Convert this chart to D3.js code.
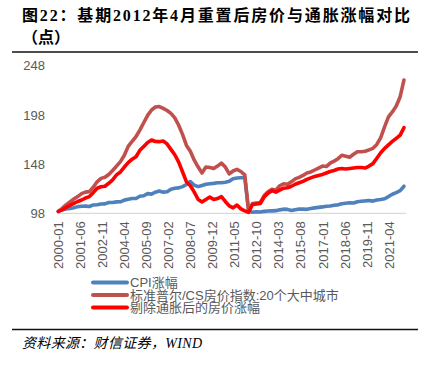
<!DOCTYPE html>
<html>
<head>
<meta charset="utf-8">
<script src="https://cdn.jsdelivr.net/npm/d3@7"></script>
<style>
  body { margin: 0; background: #fff; }
  svg { display: block; }
</style>
</head>
<body>
<div class="canvas"></div>
<script>
// quarterly samples (Jan, Apr, Jul, Oct), 2000-01 .. 2022-04
const firstMonth = '2000-01';
const lastMonth = '2022-04';

const tickLabels = ['2000-01', '2001-06', '2002-11', '2004-04', '2005-09', '2007-02', '2008-07', '2009-12',
    '2011-05', '2012-10', '2014-03', '2015-08', '2017-01', '2018-06', '2019-11', '2021-04'];

const yTicks = [98, 148, 198, 248];

const seriesNames = ['CPI涨幅', '标准普尔/CS房价指数:20个大中城市', '剔除通胀后的房价涨幅'];

const cpi = [
    100, 101.5, 102.4, 103,
    103.7, 104.8, 105.2, 105.3,
    104.9, 106.5, 106.7, 107.4,
    107.6, 108.9, 108.9, 109.6,
    109.7, 111.4, 112.2, 113.1,
    113, 115.3, 115.8, 118,
    117.5, 119.4, 120.6, 119.5,
    119.9, 122.5, 123.4, 123.8,
    125.1, 127.3, 130.3, 126.5,
    125.1, 126.3, 127.6, 128.1,
    128.4, 129.1, 129.1, 129.6,
    130.5, 133.2, 133.8, 134.1,
    134.3, 100, 99, 99.5,
    99.3, 100, 100.3, 100.5,
    100.7, 101.5, 102.2, 102,
    100.8, 101.7, 102.4, 102.2,
    102, 102.9, 103.5, 104,
    104.5, 105.2, 105.4, 106.2,
    106.6, 107.7, 108.3, 108.8,
    108.5, 109.8, 110.3, 110.6,
    111, 110.4, 111.5, 112.1,
    112.8, 115, 117.4, 119,
    121, 125.5
];

const caseShiller = [
    100, 103, 106.5, 109.5,
    112.5, 115, 118, 119.5,
    120, 124.5, 130, 133.5,
    134.6, 137.5, 141.5, 146,
    150.5, 157, 166, 171,
    176, 182.5, 190, 197.5,
    203, 206, 206.5, 204.7,
    202.5, 199.5, 195, 187.5,
    178, 167, 161, 152,
    145, 139, 145, 144.5,
    143.5, 146, 149, 145,
    138, 141, 142.7, 140.5,
    137, 100, 108, 108.5,
    109, 116, 120, 122.5,
    121.5, 126, 128, 127.5,
    130, 133, 134.5, 136.5,
    139, 140, 142, 144,
    146, 145.5, 149, 151,
    153.5, 157, 156, 155,
    158, 160.5, 160.5, 161,
    162.5, 164, 168, 175,
    186, 196, 201, 207,
    216.5, 233.5
];

const realPrice = [
    100, 101.5, 104, 106,
    108, 110, 111.5, 113.5,
    115, 119, 123.5, 125,
    125.5, 128.5, 132, 137,
    140, 145, 149.5, 153,
    155.5, 162, 166, 170,
    172.5, 171, 170.8, 171.5,
    168.5, 163, 157.5, 150,
    140, 130, 126, 119.5,
    112, 109.5, 112, 114.5,
    112, 113, 115, 110,
    105.5, 103.5, 106.4, 102.5,
    100.5, 99, 107, 107.5,
    108, 114.5, 118.5, 121,
    119.5, 121.5, 123.5, 124,
    125.5, 127.5, 129, 130.5,
    132.5, 134, 135.5, 136.5,
    137.5, 139, 140.5, 141.5,
    143, 143.5, 143, 143.5,
    144, 144.5, 144.5, 144,
    146, 148.5, 154, 159.5,
    164, 167.5, 171, 174.2,
    177.5, 185
];

const colors = ['#4f81bd', '#c0504d', '#ff0000'];

const dims = {width: 436, height: 367};
const parseMonth = d3.utcParse('%Y-%m');
const formatMonth = d3.utcFormat('%Y-%m');

const svg = d3.select('.canvas')
    .append('svg')
    .attr('width', dims.width)
    .attr('height', dims.height);

const latin = '"Liberation Sans", "Noto Sans CJK SC", sans-serif';
const serif = '"Liberation Serif", "Noto Sans CJK SC", serif';

// title
svg.append('text')
    .attr('x', 22)
    .attr('y', 21)
    .attr('font-family', serif)
    .attr('font-weight', 'bold')
    .attr('font-size', 16)
    .attr('textLength', 388)
    .attr('lengthAdjust', 'spacing')
    .text('图22：基期2012年4月重置后房价与通胀涨幅对比');

svg.append('text')
    .attr('x', 22)
    .attr('y', 43)
    .attr('font-family', serif)
    .attr('font-weight', 'bold')
    .attr('font-size', 16)
    .text('（点）');

svg.selectAll('.rule')
    .data([52, 329.5])
    .enter()
    .append('line')
    .attr('class', 'rule')
    .attr('x1', 12)
    .attr('x2', 418)
    .attr('y1', d => d)
    .attr('y2', d => d)
    .attr('stroke', '#111')
    .attr('stroke-width', 1.4);

svg.append('text')
    .attr('x', 22)
    .attr('y', 348)
    .attr('font-family', serif)
    .attr('font-style', 'italic')
    .attr('font-size', 14)
    .attr('textLength', 180)
    .attr('lengthAdjust', 'spacing')
    .text('资料来源：财信证券，WIND');

// scales
const months = d3.utcMonth.every(3).range(parseMonth(firstMonth), d3.utcMonth.offset(parseMonth(lastMonth), 1));

const x = d3.scaleUtc()
    .domain([parseMonth(firstMonth), parseMonth(lastMonth)])
    .range([58.3, 404]);

const y = d3.scaleLinear()
    .domain([98, 248])
    .range([213.3, 65.7]);

// y axis (labels only)
const yAxis = d3.axisLeft(y)
    .tickValues(yTicks)
    .tickSize(0)
    .tickPadding(0);

const yAxisGroup = svg.append('g')
    .attr('transform', 'translate(45, 0)')
    .call(yAxis);
yAxisGroup.select('.domain').remove();
yAxisGroup.selectAll('text')
    .attr('font-family', latin)
    .attr('font-size', 13)
    .attr('fill', '#595959');

// x axis
const xAxis = d3.axisBottom(x)
    .tickValues(tickLabels.map(parseMonth))
    .tickFormat(formatMonth)
    .tickSize(0);

const xAxisGroup = svg.append('g')
    .attr('transform', `translate(0, ${y(98)})`)
    .call(xAxis);
xAxisGroup.select('.domain')
    .attr('d', 'M57,0H406')
    .attr('stroke', '#d9d9d9')
    .attr('stroke-width', 1.2);
xAxisGroup.selectAll('text')
    .attr('font-family', latin)
    .attr('font-size', 13)
    .attr('fill', '#595959')
    .attr('text-anchor', 'end')
    .attr('transform', 'rotate(-90)')
    .attr('x', -8)
    .attr('y', 0)
    .attr('dy', '0.35em');

// lines
const series = [cpi, caseShiller, realPrice].map((values, i) => ({
    name: seriesNames[i],
    color: colors[i],
    points: values.map((v, j) => ({date: months[j], value: v}))
}));

const line = d3.line()
    .x(d => x(d.date))
    .y(d => y(d.value));

svg.selectAll('.series')
    .data(series)
    .enter()
    .append('path')
    .attr('class', 'series')
    .attr('fill', 'none')
    .attr('stroke', d => d.color)
    .attr('stroke-width', 3.6)
    .attr('stroke-linejoin', 'round')
    .attr('stroke-linecap', 'round')
    .attr('d', d => line(d.points));

// legend
const legend = svg.selectAll('.legend')
    .data(series)
    .enter()
    .append('g')
    .attr('class', 'legend')
    .attr('transform', (d, i) => `translate(93, ${282.5 + i * 12.5})`);

legend.append('line')
    .attr('x1', 0)
    .attr('x2', 34)
    .attr('stroke', d => d.color)
    .attr('stroke-width', 4)
    .attr('stroke-linecap', 'round');

legend.append('text')
    .attr('x', 37)
    .attr('dy', '0.36em')
    .attr('font-family', latin)
    .attr('font-size', 13)
    .attr('fill', '#595959')
    .text(d => d.name);
</script>
</body>
</html>
